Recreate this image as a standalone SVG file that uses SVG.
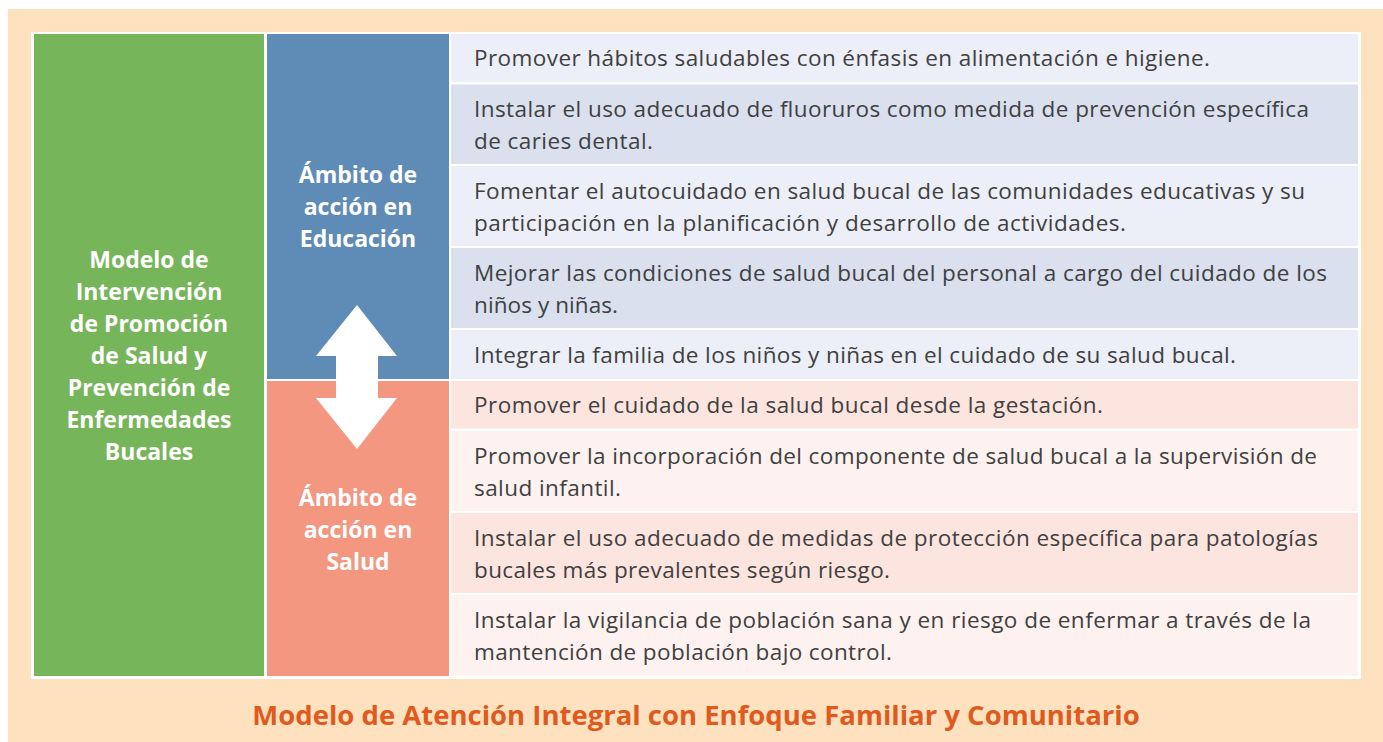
<svg xmlns="http://www.w3.org/2000/svg" width="1383" height="742" viewBox="0 0 1383 742">
<style>
.t{font-family:"Open Sans","Noto Sans","Liberation Sans",sans-serif;font-size:22.5px;fill:#404040}
.h{font-family:"Open Sans","Noto Sans","Liberation Sans",sans-serif;font-size:23px;font-weight:bold;fill:#ffffff;text-anchor:middle}
.ti{font-family:"Open Sans","Noto Sans","Liberation Sans",sans-serif;font-size:27.5px;font-weight:bold;fill:#E05A1E;text-anchor:middle}
.l{fill:#ECEFF7}.d{fill:#DAE0EE}.pd{fill:#FDE5DF}.pl{fill:#FEF2F0}
</style>
<rect x="0" y="0" width="1383" height="742" fill="#ffffff"/>
<rect x="8" y="9" width="1375" height="733" fill="#FEE2C0"/>
<rect x="31" y="32" width="1330" height="647" fill="#ffffff"/>
<g id="modelo">
<rect x="34" y="34" width="230" height="642" fill="#77B55A"/>
<text class="h" x="149" y="268">Modelo de</text>
<text class="h" x="149" y="300">Intervención</text>
<text class="h" x="149" y="332">de Promoción</text>
<text class="h" x="149" y="364">de Salud y</text>
<text class="h" x="149" y="396">Prevención de</text>
<text class="h" x="149" y="428">Enfermedades</text>
<text class="h" x="149" y="460">Bucales</text>
</g>
<g id="educacion">
<rect x="267" y="34" width="182" height="345" fill="#5F8CB6"/>
<text class="h" x="358" y="183">Ámbito de</text>
<text class="h" x="358" y="215">acción en</text>
<text class="h" x="358" y="247">Educación</text>
</g>
<g id="salud">
<rect x="267" y="381" width="182" height="295" fill="#F39780"/>
<text class="h" x="358" y="506">Ámbito de</text>
<text class="h" x="358" y="538">acción en</text>
<text class="h" x="358" y="570">Salud</text>
</g>
<g id="connectors">
<polygon points="357,305 397,356 378,356 378,398 397,398 357,449 316,398 336,398 336,356 316,356" fill="#ffffff"/>
</g>
<g id="e1"><rect class="l" x="451" y="34" width="907" height="48"/>
<text class="t" x="474" y="66" textLength="736">Promover hábitos saludables con énfasis en alimentación e higiene.</text></g>
<g id="e2"><rect class="d" x="451" y="84.5" width="907" height="79.5"/>
<text class="t" x="474" y="117" textLength="835">Instalar el uso adecuado de fluoruros como medida de prevención específica</text>
<text class="t" x="474" y="149" textLength="179">de caries dental.</text></g>
<g id="e3"><rect class="l" x="451" y="166" width="907" height="80"/>
<text class="t" x="474" y="199" textLength="831">Fomentar el autocuidado en salud bucal de las comunidades educativas y su</text>
<text class="t" x="474" y="231" textLength="652">participación en la planificación y desarrollo de actividades.</text></g>
<g id="e4"><rect class="d" x="451" y="248" width="907" height="80"/>
<text class="t" x="474" y="281" textLength="853">Mejorar las condiciones de salud bucal del personal a cargo del cuidado de los</text>
<text class="t" x="474" y="313" textLength="144">niños y niñas.</text></g>
<g id="e5"><rect class="l" x="451" y="330" width="907" height="49"/>
<text class="t" x="474" y="363" textLength="762">Integrar la familia de los niños y niñas en el cuidado de su salud bucal.</text></g>
<g id="s1"><rect class="pd" x="451" y="381" width="907" height="47.5"/>
<text class="t" x="474" y="413" textLength="629">Promover el cuidado de la salud bucal desde la gestación.</text></g>
<g id="s2"><rect class="pl" x="451" y="431" width="907" height="80"/>
<text class="t" x="474" y="464" textLength="843">Promover la incorporación del componente de salud bucal a la supervisión de</text>
<text class="t" x="474" y="496" textLength="147">salud infantil.</text></g>
<g id="s3"><rect class="pd" x="451" y="513" width="907" height="80"/>
<text class="t" x="474" y="546" textLength="844">Instalar el uso adecuado de medidas de protección específica para patologías</text>
<text class="t" x="474" y="578" textLength="416">bucales más prevalentes según riesgo.</text></g>
<g id="s4"><rect class="pl" x="451" y="595" width="907" height="81"/>
<text class="t" x="474" y="628" textLength="837">Instalar la vigilancia de población sana y en riesgo de enfermar a través de la</text>
<text class="t" x="474" y="660" textLength="418">mantención de población bajo control.</text></g>
<text class="ti" x="696" y="725">Modelo de Atención Integral con Enfoque Familiar y Comunitario</text>
</svg>
